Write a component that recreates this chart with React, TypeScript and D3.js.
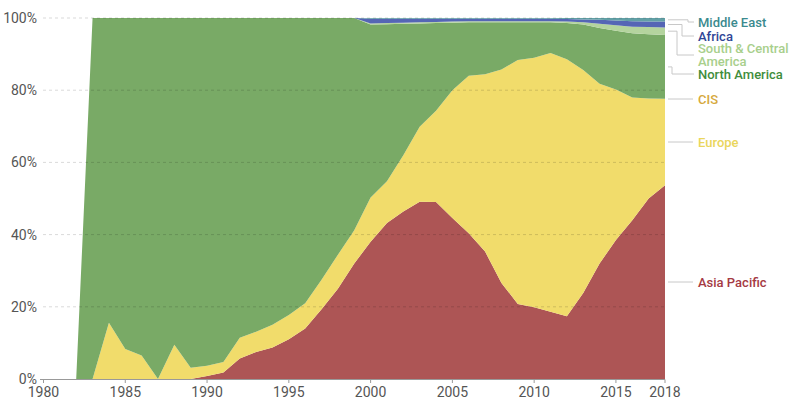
import React from "react";
import * as d3 from "d3";

const years = d3.range(1980, 2019);

// shares (%) per year, 1980..2018
const asiaPacific = [0, 0, 0, 0, 0, 0, 0, 0, 0, 0, 0.8, 1.8, 5.7, 7.5, 8.7, 11, 14, 19.3, 25, 32, 38, 43.2, 46.4, 49.1, 49, 44.6, 40.4, 35.3, 26.6, 20.8, 19.9, 18.6, 17.4, 23.8, 32, 38.5, 44, 50, 53.7];
const europe = [0, 0, 0, 0, 15.6, 8.3, 6.5, 0, 9.5, 3.1, 2.9, 2.9, 5.7, 5.6, 6.3, 6.7, 7, 8.2, 9.4, 9.2, 12.3, 11.6, 15.6, 20.8, 25.3, 35.4, 43.6, 49.1, 59.1, 67.6, 69.1, 71.7, 71.2, 61.8, 49.8, 41.7, 34, 27.7, 23.9];
const cis = years.map(() => 0);
const northAmerica = [0, 0, 0, 100, 84.4, 91.7, 93.5, 100, 90.5, 96.9, 96.3, 95.3, 88.6, 86.9, 85, 82.3, 79, 72.5, 65.6, 58.8, 47.9, 43.5, 36.4, 28.6, 24.3, 18.7, 14.8, 14.4, 13.1, 10.4, 9.8, 8.5, 10, 12.6, 15.4, 16.3, 17.8, 17.8, 17.7];
const southCentralAmerica = [0, 0, 0, 0, 0, 0, 0, 0, 0, 0, 0, 0, 0, 0, 0, 0, 0, 0, 0, 0, 0.3, 0.3, 0.3, 0.3, 0.3, 0.3, 0.3, 0.3, 0.3, 0.3, 0.3, 0.3, 0.4, 0.6, 1.2, 1.5, 1.8, 2.0, 2.1];
const africa = [0, 0, 0, 0, 0, 0, 0, 0, 0, 0, 0, 0, 0, 0, 0, 0, 0, 0, 0, 0, 1.3, 1.2, 1.1, 1.0, 0.9, 0.8, 0.7, 0.7, 0.7, 0.7, 0.7, 0.7, 0.7, 0.8, 1.1, 1.3, 1.5, 1.5, 1.6];
const middleEast = [0, 0, 0, 0, 0, 0, 0, 0, 0, 0, 0, 0, 0, 0, 0, 0, 0, 0, 0, 0, 0.2, 0.2, 0.2, 0.2, 0.2, 0.2, 0.2, 0.2, 0.2, 0.2, 0.2, 0.2, 0.3, 0.4, 0.5, 0.7, 0.9, 1.0, 1.0];

const seriesKeys = ["Asia Pacific", "Europe", "CIS", "North America", "South & Central America", "Africa", "Middle East"];
const seriesValues = [asiaPacific, europe, cis, northAmerica, southCentralAmerica, africa, middleEast];
const fills = ["#ad5555", "#f1dc6b", "#d9ad45", "#79aa66", "#b4d49e", "#5566b5", "#62a0a6"];
const labelColors = ["#a53a44", "#ead65c", "#d6a93c", "#3f8d3c", "#a8cf8c", "#2f4596", "#3b8a8e"];

const xTickYears = [1980, 1985, 1990, 1995, 2000, 2005, 2010, 2015, 2018];
const yTicks = [0, 20, 40, 60, 80, 100];

// label layout: series index -> label lines, label y, elbow x
const labelLayout = [
  { i: 6, lines: ["Middle East"], y: 22, elbow: 688 },
  { i: 5, lines: ["Africa"], y: 36, elbow: 682 },
  { i: 4, lines: ["South & Central", "America"], y: 55, elbow: 677 },
  { i: 3, lines: ["North America"], y: 74, elbow: 672 },
  { i: 2, lines: ["CIS"], y: 99, elbow: null },
  { i: 1, lines: ["Europe"], y: 142, elbow: null },
  { i: 0, lines: ["Asia Pacific"], y: 282, elbow: null },
];

export default function App() {
  const W = 790, H = 400;
  const x = d3.scaleLinear().domain([1980, 2018]).range([43.5, 665]);
  const y = d3.scaleLinear().domain([0, 100]).range([379, 18]);

  const table = years.map((yr, j) => {
    const row: any = { year: yr };
    seriesKeys.forEach((k, i) => (row[k] = seriesValues[i][j]));
    return row;
  });
  const stacked = d3.stack<any>().keys(seriesKeys)(table);
  const area = d3
    .area<any>()
    .x((d) => x(d.data.year))
    .y0((d) => y(d[0]))
    .y1((d) => y(d[1]));

  const last = years.length - 1;
  const font = "Roboto, 'Noto Sans', sans-serif";

  return (
    <svg width={W} height={H} style={{ position: "absolute", left: 0, top: 0, background: "#fff" }} fontFamily={font}>
      {stacked.map((s, i) => (
        <path key={i} d={area(s) || ""} fill={fills[i]} />
      ))}
      {yTicks.map((t) => (
        <g key={t}>
          {t > 0 && (
            <line x1={43} x2={665} y1={y(t)} y2={y(t)} stroke="#000" strokeOpacity={0.15} strokeDasharray="3,3" />
          )}
          <text x={37} y={y(t)} dy="0.35em" textAnchor="end" fontSize={14} fill="#555">
            {t}%
          </text>
        </g>
      ))}
      <line x1={40} x2={665} y1={379.5} y2={379.5} stroke="#999" strokeWidth={1} />
      {xTickYears.map((t) => (
        <g key={t}>
          <line x1={x(t)} x2={x(t)} y1={379.5} y2={383} stroke="#999" />
          <text x={x(t)} y={397} textAnchor="middle" fontSize={14} fill="#555">
            {t}
          </text>
        </g>
      ))}
      {labelLayout.map((l) => {
        const s = stacked[l.i][last];
        const anchor = y((s[0] + s[1]) / 2);
        const path =
          l.elbow === null
            ? `M668,${l.y}H693`
            : `M668,${anchor}H${l.elbow}V${l.y}H694`;
        const lineH = 12.5;
        const y0 = l.y - ((l.lines.length - 1) * lineH) / 2;
        return (
          <g key={l.i}>
            <path d={path} fill="none" stroke="#c8c8c8" strokeWidth={1} />
            <text fontSize={13} fontWeight={500} fill={labelColors[l.i]}>
              {l.lines.map((ln, k) => (
                <tspan key={k} x={698} y={y0 + k * lineH} dy="0.35em">
                  {ln}
                </tspan>
              ))}
            </text>
          </g>
        );
      })}
    </svg>
  );
}
